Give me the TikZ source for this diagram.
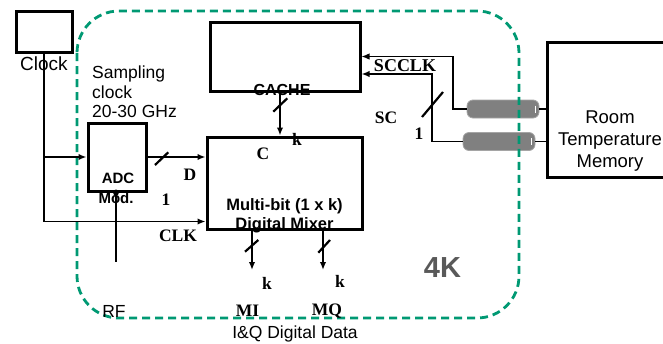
\documentclass[tikz,border=0pt]{standalone}
\usepackage{fontspec}
\setmainfont{Liberation Sans}
\newfontfamily\timesfont{Liberation Serif}
\usepackage{tikz}
\usetikzlibrary{arrows.meta, calc}
\definecolor{coldgreen}{RGB}{0,153,115}
\definecolor{labgray}{RGB}{89,89,89}
\definecolor{cablegray}{RGB}{128,128,128}
\definecolor{cableedge}{RGB}{165,165,165}

\begin{document}
\begin{tikzpicture}[
    x=1pt, y=-1pt,
    blk/.style={draw, line width=3pt, inner sep=0pt},
    cable/.style={fill=cablegray, draw=cableedge, line width=0.8pt, rounded corners=6pt,
                  minimum width=72pt, minimum height=18pt, inner sep=0pt},
    region/.style={draw=coldgreen, line width=2.8pt, dash pattern=on 8pt off 5pt, rounded corners=42pt},
    wire/.style={line width=1.9pt},
    thinw/.style={line width=1.3pt},
    sig/.style={wire, -{Latex[length=8pt, width=6.5pt]}},
    slash/.style={line width=2.2pt},
    slab/.style={font=\fontsize{17.5}{19.5}\selectfont, inner sep=0pt},
    blab/.style={font=\bfseries\fontsize{15}{18}\selectfont, inner sep=0pt},
    tlab/.style={font=\timesfont\bfseries\fontsize{17.5}{20}\selectfont, inner sep=0pt}
]
\useasboundingbox (0,0) rectangle (663,343);

% Blocks
\node[blk, minimum width=56pt, minimum height=41pt] (clk) at (44,31.5) {};
\node[blk, minimum width=150pt, minimum height=69pt] (cache) at (285,56.5) {};
\node[blk, minimum width=58pt, minimum height=68pt] (adc) at (117,157) {};
\node[blk, minimum width=155pt, minimum height=92pt] (mix) at (284.5,183) {};
\node[blk, minimum width=126pt, minimum height=135pt] (rtm) at (610,109.5) {};

% Cables
\node[cable] (cab1) at (503,109) {};
\node[cable] (cab2) at (499,141.5) {};
\draw[white, line width=0.8pt] ($(cab1.east)+(-4,-3.5)$) -- ++(0,7);
\draw[white, line width=0.8pt] ($(cab2.east)+(-4,-3.5)$) -- ++(0,7);

% 4K region
\draw[region] (77,11) rectangle (519,318);

% Texts
\node[slab, font=\fontsize{19}{21}\selectfont] (clktxt) at (44,64) {Clock};
\node[slab, anchor=north west, align=left] (samp) at (92,66) {Sampling\\clock\\20-30 GHz};
\node[blab] (adctxt) at (118,178) {ADC};
\node[blab] (modtxt) at (116,198) {Mod.};
\node[blab, font=\bfseries\fontsize{16}{18}\selectfont] (cachetxt) at (282,90) {CACHE};
\node[blab, font=\bfseries\fontsize{16.5}{18}\selectfont, anchor=base] (mixtxt1) at (284.5,210) {Multi-bit (1 x k)};
\node[blab, font=\bfseries\fontsize{16.5}{18}\selectfont, anchor=base] (mixtxt2) at (284.5,229) {Digital Mixer};
\node[slab, anchor=north, align=center, font=\fontsize{18.5}{22}\selectfont] (rtmtxt) at (610,111) {Room\\Temperature\\Memory};
\node[slab] (rflab) at (114,311) {RF};
\node[slab, anchor=base] (iqlab) at (295,338.5) {I\&Q Digital Data};
\node[font=\bfseries\fontsize{29}{32}\selectfont, text=labgray, inner sep=0pt] (fourk) at (442.5,267.5) {4K};

% Signal labels
\node[tlab] (dlab) at (190,175) {D};
\node[tlab] (onea) at (166,200) {1};
\node[tlab] (clklab) at (178,236) {CLK};
\node[tlab] (clab) at (263,154) {C};
\node[tlab] (kc) at (297,139) {k};
\node[tlab] (kmi) at (267,283) {k};
\node[tlab] (kmq) at (340,281) {k};
\node[tlab] (milab) at (247.5,311) {MI};
\node[tlab] (mqlab) at (327,311) {MQ};
\node[tlab] (sclab) at (386,118) {SC};
\node[tlab] (oneb) at (419,134) {1};
\node[tlab, font=\timesfont\bfseries\fontsize{18}{20}\selectfont] (scclk) at (405,66) {SCCLK};

% Free ends
\coordinate (clkin) at ($(mix.south west)+(0,-9)$);
\coordinate (mi) at (252,270);
\coordinate (mq) at (323,270);
\coordinate (rf) at (116,262);

% Signals
\draw[sig] (clk.south) |- (adc.west);
\draw[sig] (clk.south) |- (clkin);
\draw[sig] (adc.east) -- (adc.east -| mix.west);
\draw[sig] ($(cache.south)+(-5,0)$) -- ($(cache.south |- mix.north)+(-5,0)$);
\draw[sig] (mi |- mix.south) -- (mi);
\draw[sig] (mq |- mix.south) -- (mq);
\draw[thinw] (rf |- adc.south) -- (rf);
\fill (rf |- adc.south) circle (3pt);
\draw[thinw, -{Latex[length=8pt, width=6.5pt]}] (cab1.west) -- ++(-13.5,0) |- (cache.east);
\draw[sig] (cab2.west) -- ++(-31,0) |- ($(cache.east)+(0,17.5)$);
\draw[thinw] (cab1.east) -- (cab1.east -| rtm.west);
\draw[wire] (cab2.east) -- (cab2.east -| rtm.west);

% Bus marks
\draw[slash] (155,165) -- (168.3,152.3);
\draw[slash] (273.3,111.7) -- (287.3,98.3);
\draw[slash] (422,117) -- (443,92);
\draw[slash] (245,251.7) -- (258.3,240);
\draw[slash] (318.3,252.7) -- (330,240);
\end{tikzpicture}
\end{document}
